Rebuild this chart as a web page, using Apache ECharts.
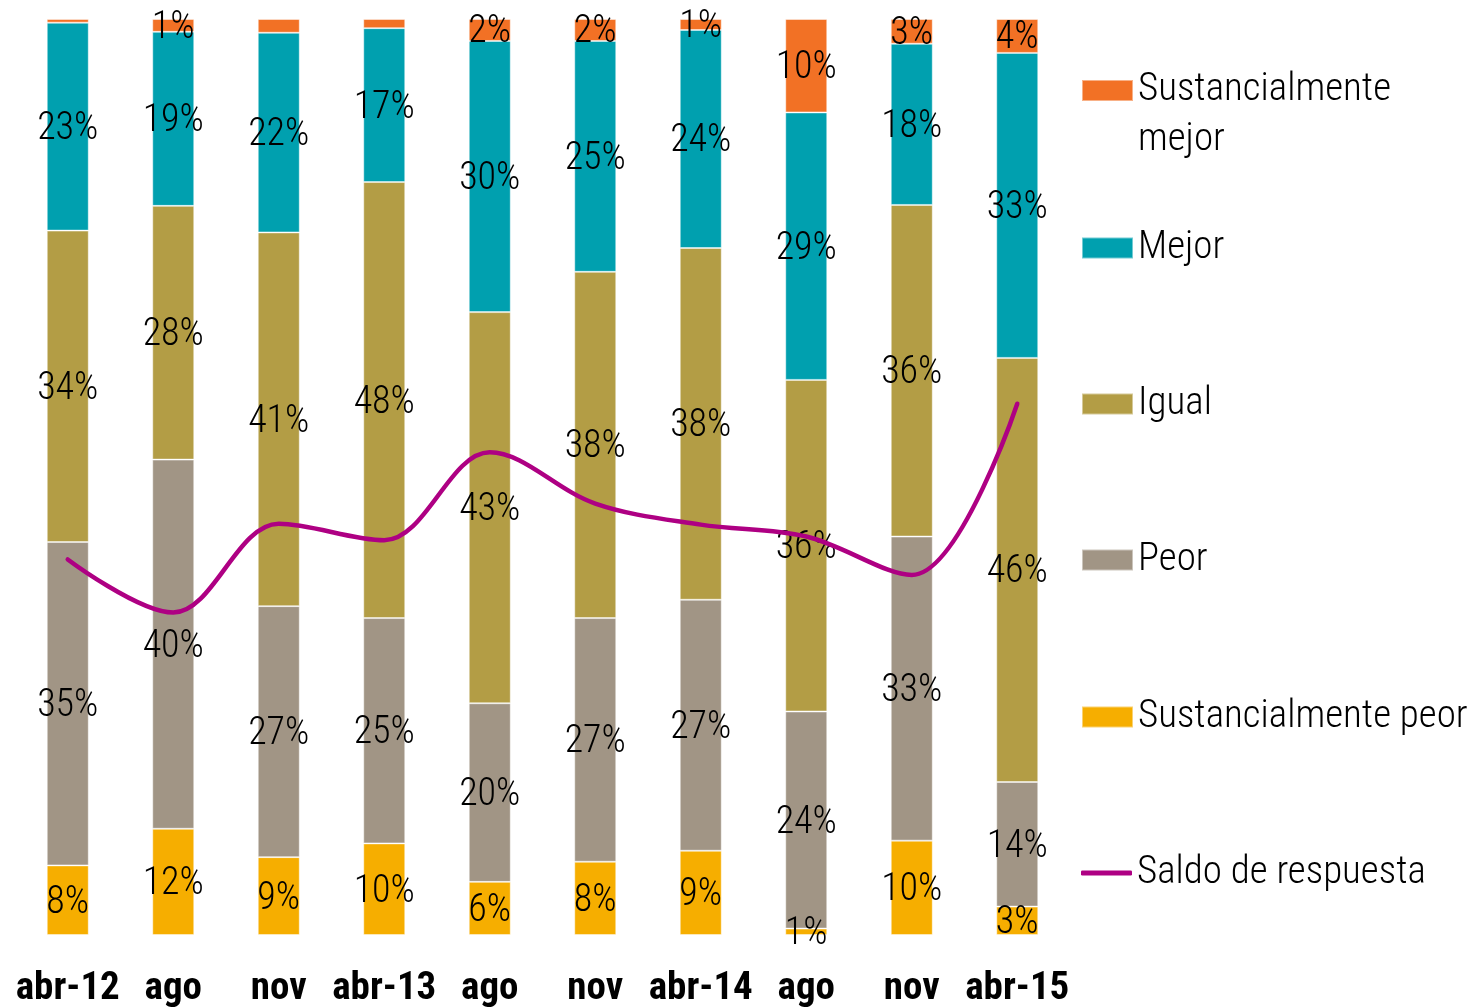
<!DOCTYPE html>
<html>
<head>
<meta charset="utf-8">
<script src="https://cdn.jsdelivr.net/npm/echarts@6/dist/echarts.min.js"></script>
<style>
  html, body { margin: 0; padding: 0; background: #ffffff; }
  #chart { width: 1478px; height: 1008px; }
</style>
</head>
<body>
<div id="chart"></div>
<script>
// ---- data ----
const categories = ['abr-12', 'ago', 'nov', 'abr-13', 'ago', 'nov', 'abr-14', 'ago', 'nov', 'abr-15'];
const sustPeor   = [7.6, 11.6, 8.5, 10.0, 5.8, 8.0, 9.2, 0.7, 10.3, 3.1];
const peor       = [35.3, 40.3, 27.4, 24.6, 19.5, 26.6, 27.4, 23.7, 33.2, 13.6];
const igual      = [34.0, 27.7, 40.8, 47.6, 42.7, 37.8, 38.4, 36.2, 36.2, 46.3];
const mejor      = [22.7, 19.0, 21.8, 16.8, 29.6, 25.2, 23.8, 29.2, 17.6, 33.3];
const sustMejor  = [0.4, 1.4, 1.5, 1.0, 2.4, 2.4, 1.2, 10.2, 2.7, 3.7];
const saldo      = [-9.0, -14.8, -5.1, -6.9, 2.7, -2.9, -5.2, -6.5, -10.7, 8.0];
const sustMejorUnlabelled = [0, 2, 3];

const seriesNames = ['Sustancialmente peor', 'Peor', 'Igual', 'Mejor', 'Sustancialmente mejor', 'Saldo de respuesta'];
const colors = ['#F6AE00', '#A19585', '#B39D45', '#00A0AF', '#F27125', '#AE0083'];

const FONT = '"Roboto Condensed", "Liberation Sans Narrow", "DejaVu Sans Condensed", sans-serif';

function barSeries(name, values, color, hidden) {
  return {
    name: name,
    type: 'bar',
    stack: 'total',
    barWidth: 42,
    itemStyle: { color: color, borderColor: 'rgba(255,255,255,0.45)', borderWidth: 1 },
    label: {
      show: true,
      position: 'inside',
      offset: [0, 3],
      color: '#000000',
      fontFamily: FONT,
      fontWeight: 300,
      fontSize: 38,
      formatter: p => Math.round(p.value) + '%'
    },
    data: values.map((v, i) => (hidden && hidden.indexOf(i) >= 0) ? { value: v, label: { show: false } } : v)
  };
}

const chart = echarts.init(document.getElementById('chart'));

function legendFor(name, top, extra) {
  return Object.assign({
    data: [{ name: name, icon: 'rect' }],
    orient: 'vertical',
    left: 1081,
    top: top,
    padding: 0,
    itemWidth: 51,
    itemHeight: 21,
    selectedMode: false,
    textStyle: { color: '#000000', fontFamily: FONT, fontWeight: 300, fontSize: 39, lineHeight: 46 }
  }, extra || {});
}

const option = {
  animation: false,
  backgroundColor: '#ffffff',
  grid: { left: 15, right: 408, top: 19, bottom: 73, containLabel: false, outerBoundsMode: 'none' },
  legend: [
    legendFor('Sustancialmente mejor', 15.5, {
      formatter: () => '\nSustancialmente\nmejor',
      textStyle: { color: '#000000', fontFamily: FONT, fontWeight: 300, fontSize: 39, lineHeight: 50 }
    }),
    legendFor('Mejor', 225),
    legendFor('Igual', 381),
    legendFor('Peor', 537),
    legendFor('Sustancialmente peor', 694),
    legendFor('Saldo de respuesta', 850, {
      data: [{ name: 'Saldo de respuesta', icon: 'roundRect' }],
      itemHeight: 5
    })
  ],
  xAxis: {
    type: 'category',
    data: categories,
    axisLine: { show: false },
    axisTick: { show: false },
    axisLabel: {
      color: '#000000',
      fontFamily: FONT,
      fontWeight: 'bold',
      fontSize: 39,
      margin: 35,
      interval: 0
    }
  },
  yAxis: [
    { type: 'value', min: 0, max: 100, show: false },
    { type: 'value', min: -50, max: 50, show: false }
  ],
  series: [
    barSeries(seriesNames[0], sustPeor, colors[0]),
    barSeries(seriesNames[1], peor, colors[1]),
    barSeries(seriesNames[2], igual, colors[2]),
    barSeries(seriesNames[3], mejor, colors[3]),
    barSeries(seriesNames[4], sustMejor, colors[4], sustMejorUnlabelled),
    {
      name: seriesNames[5],
      type: 'line',
      yAxisIndex: 1,
      smooth: 0.35,
      symbol: 'none',
      lineStyle: { color: colors[5], width: 4.5, cap: 'round' },
      itemStyle: { color: colors[5] },
      z: 5,
      data: saldo
    }
  ]
};

chart.setOption(option);
</script>
</body>
</html>
